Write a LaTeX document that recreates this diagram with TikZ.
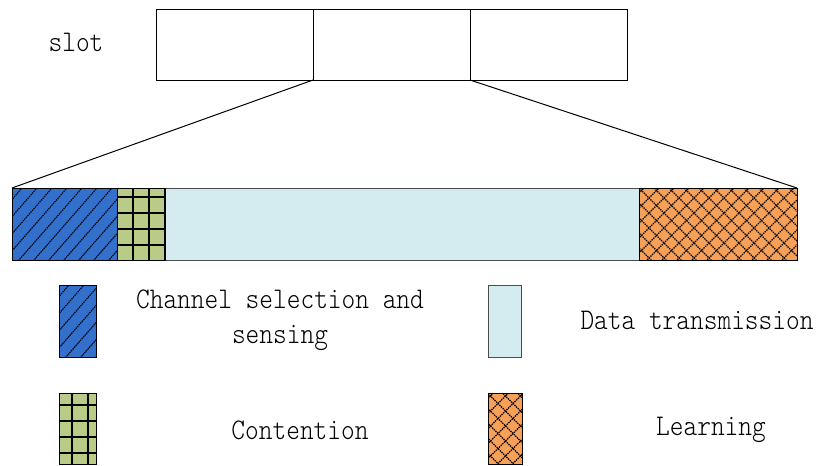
\documentclass[tikz,border=0pt]{standalone}
\usepackage{fontspec}
\usetikzlibrary{calc}
\newfontfamily\lblfont{Latin Modern Mono Light}[FakeStretch=0.87]
\definecolor{selblue}{RGB}{50,112,204}
\definecolor{contgreen}{RGB}{184,204,136}
\definecolor{datacyan}{RGB}{212,235,240}
\definecolor{learnorange}{RGB}{246,160,88}
\tikzset{
  every node/.style={inner sep=0pt, outer sep=0pt},
  slotbox/.style={draw=black, line width=1pt, fill=white, minimum width=157pt, minimum height=71pt},
  label/.style={font=\lblfont\fontsize{30}{35}\selectfont, align=center},
  selbox/.style={fill=selblue},
  contbox/.style={fill=contgreen},
  databox/.style={fill=datacyan, draw=black!70, line width=1pt},
  learnbox/.style={fill=learnorange},
  hatchline/.style={line width=1.1pt, dash pattern=on 1.5pt off 0.8pt},
  gridline/.style={line width=2pt},
  edge/.style={draw=black, line width=1pt},
}
% diagonal dashed hatching inside node #1
\newcommand\hatchdiag[1]{%
  \begin{scope}
    \clip (#1.north west) rectangle (#1.south east);
    \foreach \k in {-90,-75,...,120}
      \draw[hatchline] ($(#1.north west)+(\k,80)$) -- ($(#1.north west)+(\k+70,0)$);
  \end{scope}
  \draw[edge] (#1.north west) rectangle (#1.south east);}
% dashed cross hatching inside node #1
\newcommand\hatchcross[1]{%
  \begin{scope}
    \clip (#1.north west) rectangle (#1.south east);
    \foreach \k in {-90,-75,...,180} {
      \draw[hatchline] ($(#1.north west)+(\k,80)$) -- ($(#1.north west)+(\k+80,0)$);
      \draw[hatchline] ($(#1.north west)+(\k,0)$) -- ($(#1.north west)+(\k+80,80)$);
    }
  \end{scope}
  \draw[edge] (#1.north west) rectangle (#1.south east);}
% square grid inside node #1, first lines at offsets #2 (x) and #3 (y)
\newcommand\hatchgrid[3]{%
  \begin{scope}
    \clip (#1.north west) rectangle (#1.south east);
    \foreach \k in {0,16,...,64} {
      \draw[gridline] ($(#1.north west)+(#2+\k,-5)$) -- ($(#1.north west)+(#2+\k,80)$);
      \draw[gridline] ($(#1.north west)+(-5,#3+\k)$) -- ($(#1.north west)+(200,#3+\k)$);
    }
  \end{scope}
  \draw[edge] (#1.north west) rectangle (#1.south east);}
\begin{document}
\begin{tikzpicture}[x=1pt, y=-1pt]
  \useasboundingbox (0,0) rectangle (820,466);

  % slot row
  \node[label] (slot) at (76,42) {slot};
  \node[slotbox] (s1) at (234.5,44.5) {};
  \node[slotbox] (s2) at (391.5,44.5) {};
  \node[slotbox] (s3) at (548.5,44.5) {};

  % expanded slot
  \node[databox, minimum width=474pt, minimum height=72pt] (data) at (402,224) {};
  \node[selbox, minimum width=105pt, minimum height=72pt] (sel) at (64.5,224) {};
  \node[contbox, minimum width=48pt, minimum height=72pt] (cont) at (141,224) {};
  \node[learnbox, minimum width=158pt, minimum height=72pt] (learn) at (718,224) {};
  \hatchdiag{sel}
  \hatchgrid{cont}{16}{9}
  \hatchcross{learn}

  % zoom lines
  \draw[line width=1pt] (s2.south west) -- (sel.north west);
  \draw[line width=1pt] (s2.south east) -- (learn.north east);

  % legend
  \node[selbox, minimum width=37pt, minimum height=72pt] (legsel) at (77.5,321) {};
  \hatchdiag{legsel}
  \node[label] (txtsel) at (280,320) {Channel selection and\\sensing};
  \node[databox, minimum width=33pt, minimum height=72pt] (legdata) at (504.5,321) {};
  \node[label] (txtdata) at (697,320) {Data transmission};
  \node[contbox, minimum width=37pt, minimum height=71pt] (legcont) at (77.5,429) {};
  \hatchgrid{legcont}{13}{11}
  \node[label] (txtcont) at (300,430) {Contention};
  \node[learnbox, minimum width=34pt, minimum height=71pt] (leglearn) at (505,429) {};
  \hatchcross{leglearn}
  \node[label] (txtlearn) at (711,430) {Learning};
\end{tikzpicture}
\end{document}
